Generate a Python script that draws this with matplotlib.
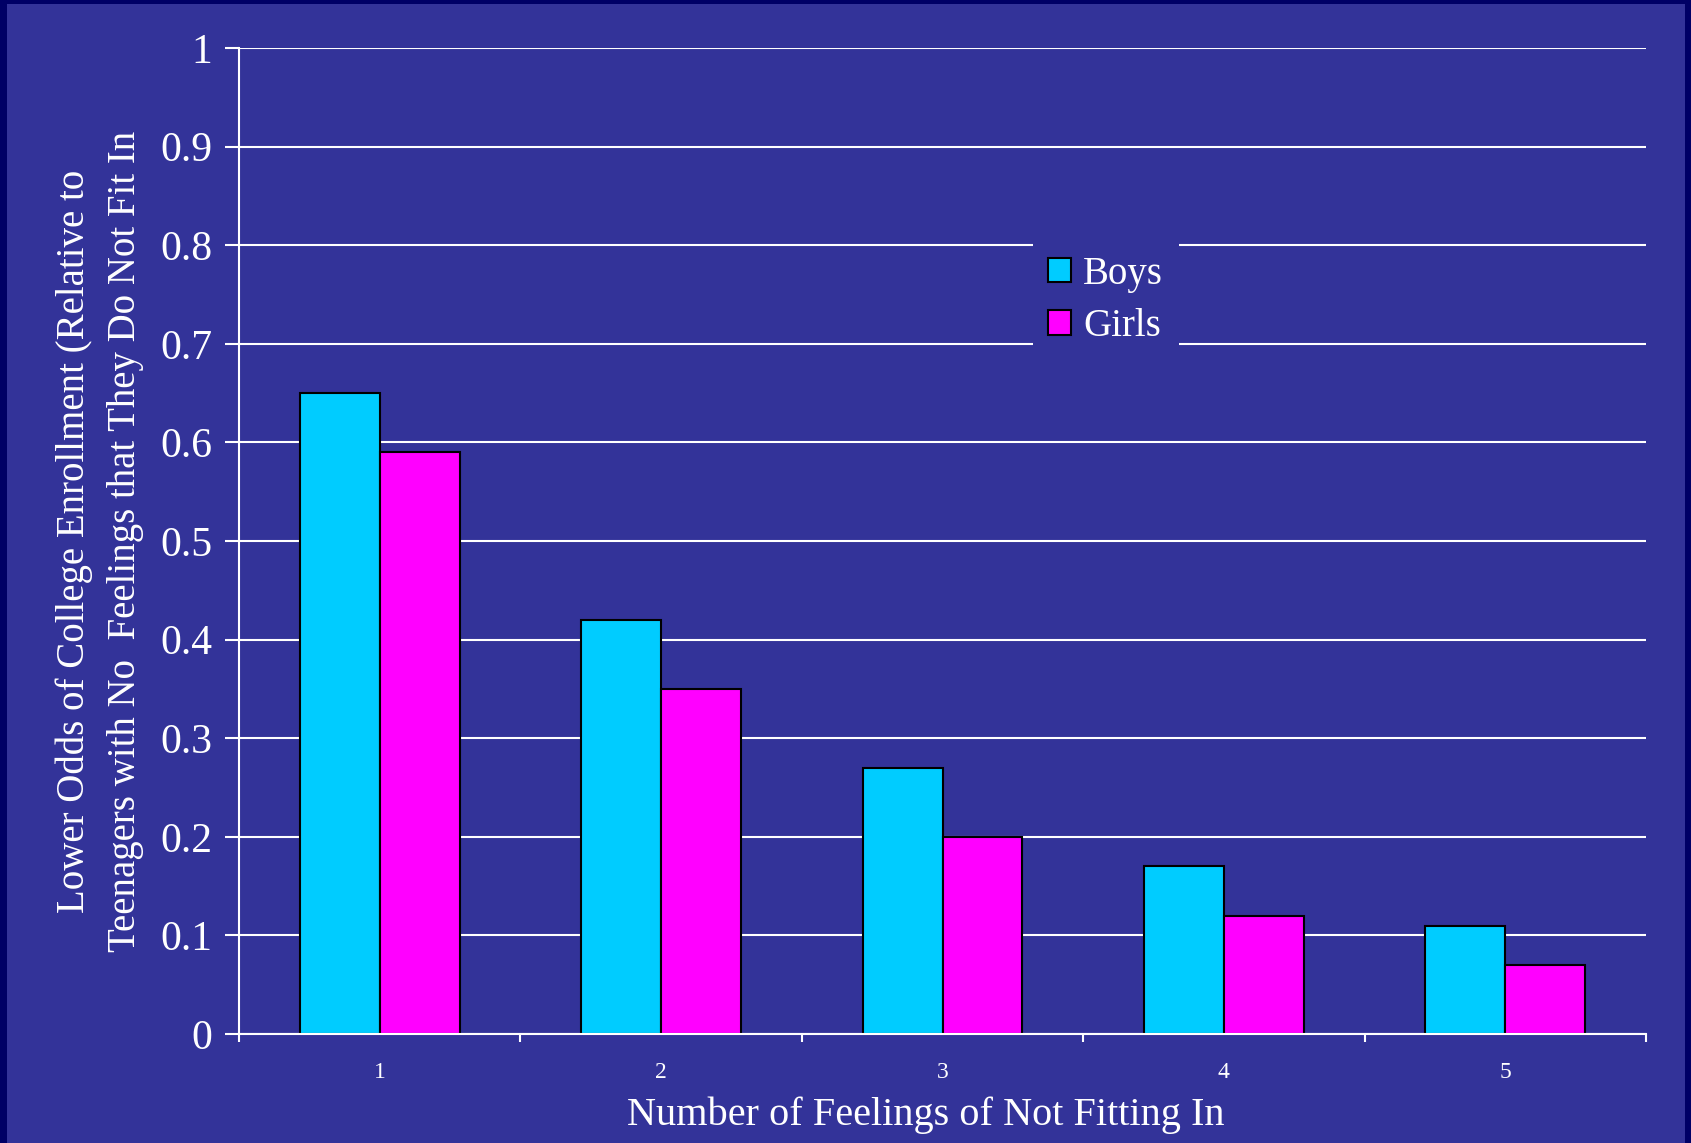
import matplotlib.pyplot as plt
import numpy as np
from matplotlib.patches import Rectangle

categories = ["1", "2", "3", "4", "5"]
boys = [0.65, 0.42, 0.27, 0.17, 0.11]
girls = [0.59, 0.35, 0.20, 0.12, 0.07]
y_ticks = [0, 0.1, 0.2, 0.3, 0.4, 0.5, 0.6, 0.7, 0.8, 0.9, 1]
y_tick_labels = ["0", "0.1", "0.2", "0.3", "0.4", "0.5", "0.6", "0.7", "0.8", "0.9", "1"]

BG = "#333399"
BORDER = "#000066"
BOYS_COLOR = "#00CCFF"
GIRLS_COLOR = "#FF00FF"

plt.rcParams["font.family"] = ["Liberation Serif", "DejaVu Serif"]

fig = plt.figure(figsize=(16.91, 11.43), dpi=100)
fig.patch.set_facecolor(BORDER)
fig.patches.append(Rectangle((7 / 1691, 0), (1685 - 7) / 1691, 1 - 4 / 1143,
                             transform=fig.transFigure, facecolor=BG,
                             edgecolor="none", zorder=-10))

ax = fig.add_axes([239 / 1691, 1 - 1034 / 1143, (1646 - 239) / 1691, (1034 - 48) / 1143])
ax.set_facecolor(BG)

x = np.arange(len(categories))
width = 0.284
ax.bar(x - width / 2, boys, width, color=BOYS_COLOR, edgecolor="black",
       linewidth=1.5, label="Boys", zorder=3)
ax.bar(x + width / 2, girls, width, color=GIRLS_COLOR, edgecolor="black",
       linewidth=1.5, label="Girls", zorder=3)

ax.set_xlim(-0.5, len(categories) - 0.5)
ax.set_ylim(0, 1)
ax.set_yticks(y_ticks)
ax.set_yticklabels(y_tick_labels, fontsize=30, color="white")
ax.set_xticks(x)
ax.set_xticklabels(categories, fontsize=17, color="white")
ax.set_xticks(np.arange(-0.5, len(categories)), minor=True)

ax.tick_params(axis="y", direction="out", length=10, width=1.5, color="white", pad=9)
ax.tick_params(axis="x", which="major", length=0, pad=20)
ax.tick_params(axis="x", which="minor", direction="out", length=6, width=1.5, color="white")

ax.yaxis.grid(True, color="white", linewidth=1.5, zorder=0)
ax.set_axisbelow(True)
for side in ["top", "right"]:
    ax.spines[side].set_visible(False)
for side in ["left", "bottom"]:
    ax.spines[side].set_color("white")
    ax.spines[side].set_linewidth(1.5)
    ax.spines[side].set_zorder(4)

ax.set_xlabel("Number of Feelings of Not Fitting In", fontsize=29, color="white",
              labelpad=10, x=0.488)
ax.set_ylabel("Lower Odds of College Enrollment (Relative to\n"
              "Teenagers with No  Feelings that They Do Not Fit In",
              fontsize=28, color="white", labelpad=12, linespacing=1.5)

leg = ax.legend(loc="upper left", bbox_to_anchor=(0.564, 0.805), fontsize=28,
                frameon=True, facecolor=BG, edgecolor="none", framealpha=1,
                handlelength=0.6, handleheight=0.6, handletextpad=0.3,
                labelspacing=0.4, borderpad=0.4, borderaxespad=0,
                labelcolor="white", fancybox=False)
for h in leg.legend_handles:
    h.set_linewidth(1.5)

fig.savefig("out.png", dpi=100, facecolor=fig.get_facecolor())
